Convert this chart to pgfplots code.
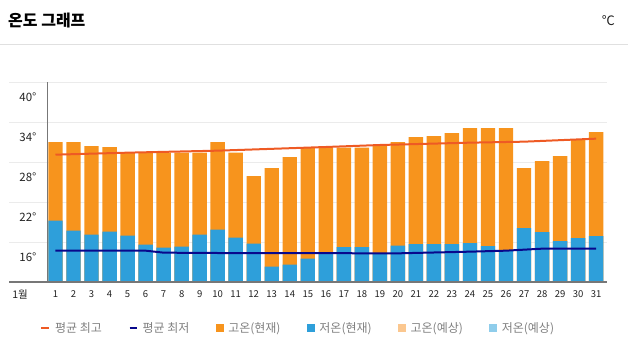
\documentclass[border=0pt]{standalone}
\usepackage{pgfplots}
\usepackage{pgfplotstable}
\pgfplotsset{compat=1.18}
\usepackage{fontspec}
\setmainfont{Noto Sans CJK KR}

\definecolor{barorange}{HTML}{F7941D}
\definecolor{barblue}{HTML}{2E9FDA}
\definecolor{lightorange}{HTML}{FBC78F}
\definecolor{lightblue}{HTML}{8FCDEB}
\definecolor{avghigh}{HTML}{EE5A24}
\definecolor{avglow}{HTML}{08088C}
\definecolor{gridgray}{HTML}{EBEBEB}
\definecolor{sepgray}{HTML}{E0E0E0}
\definecolor{axisgray}{HTML}{777777}
\definecolor{leggray}{HTML}{808080}
\definecolor{labeldark}{HTML}{222222}

\pgfplotstableread{
day high low
1 31.0 19.2
2 31.0 17.7
3 30.4 17.1
4 30.25 17.55
5 29.4 16.95
6 29.4 15.6
7 29.4 15.15
8 29.4 15.3
9 29.4 17.1
10 31.0 17.85
11 29.4 16.65
12 25.9 15.75
13 27.1 12.3
14 28.75 12.6
15 30.1 13.5
16 30.15 14.25
17 30.15 15.25
18 30.15 15.25
19 30.4 14.25
20 31.0 15.45
21 31.75 15.7
22 31.9 15.7
23 32.35 15.7
24 33.1 15.85
25 33.1 15.4
26 33.1 14.8
27 27.1 18.1
28 28.15 17.5
29 28.9 16.15
30 31.3 16.6
31 32.5 16.9
}\temps

\pgfplotstableread{
day val
1 29.1
5 29.4
10 29.7
16 30.25
19 30.55
24 30.9
27 31.05
31 31.5
}\avghighdata

\pgfplotstableread{
day val
1 14.7
6 14.7
7 14.4
10 14.35
20 14.3
24 14.55
26 14.7
28 15.0
31 15.0
}\avglowdata

\begin{document}
\begin{tikzpicture}
\useasboundingbox (0,0) rectangle (628pt,356pt);
\node[anchor=west, inner sep=0pt, font=\bfseries\fontsize{16}{18}\selectfont, text=black] at (8pt,335pt) {온도 그래프};
\node[anchor=east, inner sep=0pt, font=\fontsize{13}{15}\selectfont, text=labeldark] at (615pt,335pt) {℃};
\draw[color=sepgray, line width=1pt] (0pt,311pt) -- (628pt,311pt);
\begin{axis}[
  name=ax,
  at={(9pt,74pt)}, anchor=south west,
  scale only axis, width=598pt, height=200pt,
  xmin=-1.58, xmax=31.605, ymin=10, ymax=40,
  axis line style={draw=none},
  xtick={1,...,31},
  xticklabel={\pgfmathparse{int(\tick)}\pgfmathresult},
  ytick={13.75,19.75,25.75,31.75,37.75},
  yticklabels={16°,22°,28°,34°,40°},
  minor ytick={16,22,28,34,40},
  yminorgrids=true, ymajorgrids=false, xmajorgrids=false,
  minor grid style={draw=gridgray, line width=1pt},
  major tick length=0pt, minor tick length=0pt,
  yticklabel style={anchor=east, xshift=31pt, font=\fontsize{11.5}{13}\selectfont, text=labeldark},
  xticklabel style={yshift=-5pt, font=\fontsize{9.5}{11}\selectfont, text=labeldark},
  legend columns=6,
  legend style={at={(0.0518,-0.23)}, anchor=west, draw=none, fill=none, inner sep=0pt,
    font=\fontsize{12}{14}\selectfont, text=leggray,
    /tikz/every odd column/.append style={column sep=3pt},
    /tikz/every even column/.append style={column sep=24.5pt}},
]
\addplot[ybar, bar width=0.8, bar shift=0pt, fill=barorange, draw=none, forget plot] table[x=day, y=high] {\temps};
\addplot[ybar, bar width=0.8, bar shift=0pt, fill=barblue, draw=none, forget plot] table[x=day, y=low] {\temps};
\addplot[color=avghigh, line width=2pt, no markers, forget plot] table[x=day, y=val] {\avghighdata};
\addplot[color=avglow, line width=2pt, no markers, forget plot] table[x=day, y=val] {\avglowdata};

\addlegendimage{legend image code/.code={\draw[line width=2pt, color=avghigh] (0pt,0pt) -- (8pt,0pt);}}
\addlegendentry{평균 최고}
\addlegendimage{legend image code/.code={\draw[line width=2pt, color=avglow] (0pt,0pt) -- (7pt,0pt);}}
\addlegendentry{평균 최저}
\addlegendimage{legend image code/.code={\fill[barorange] (0pt,-3.5pt) rectangle (7pt,3.5pt);}}
\addlegendentry{고온(현재)}
\addlegendimage{legend image code/.code={\fill[barblue] (0pt,-3.5pt) rectangle (7pt,3.5pt);}}
\addlegendentry{저온(현재)}
\addlegendimage{legend image code/.code={\fill[lightorange] (0pt,-3.5pt) rectangle (7pt,3.5pt);}}
\addlegendentry{고온(예상)}
\addlegendimage{legend image code/.code={\fill[lightblue] (0pt,-3.5pt) rectangle (7pt,3.5pt);}}
\addlegendentry{저온(예상)}
\end{axis}
\draw[color=axisgray, line width=1.5pt] (ax.south west) -- (ax.south east);
\draw[color=axisgray, line width=1pt] ([xshift=38.5pt]ax.south west) -- ([xshift=38.5pt]ax.north west);
\node[inner sep=0pt, font=\fontsize{10.5}{12}\selectfont, text=labeldark] at ([xshift=11pt,yshift=-13pt]ax.south west) {1월};
\end{tikzpicture}
\end{document}
